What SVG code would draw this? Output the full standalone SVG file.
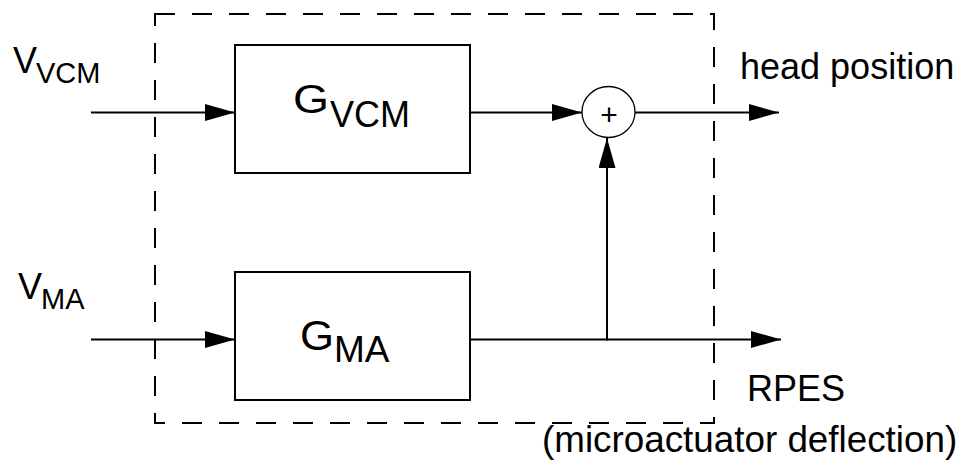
<svg xmlns="http://www.w3.org/2000/svg" width="966" height="465" viewBox="0 0 966 465">
<style>
  .ln { stroke: #000; stroke-width: 2; fill: none; }
  .box { stroke: #000; stroke-width: 2; fill: #fff; }
  .dash { stroke: #000; stroke-width: 2; fill: none; stroke-dasharray: 20 17; }
  .t { font-family: "Liberation Sans", Arial, sans-serif; fill: #000; }
</style>
<defs>
  <marker id="ah" markerUnits="userSpaceOnUse" markerWidth="30" markerHeight="17" refX="30" refY="8.5" orient="auto">
    <path d="M0,0 L30,8.5 L0,17 Z" fill="#000"/>
  </marker>
</defs>
<rect width="966" height="465" fill="#fff"/>
<g id="boundary">
  <path class="dash" d="M155,14 H714 V423 H155 Z"/>
</g>
<g id="connectors">
  <line class="ln" x1="91" y1="112.5" x2="235" y2="112.5" marker-end="url(#ah)"/>
  <line class="ln" x1="470" y1="112.5" x2="582" y2="112.5" marker-end="url(#ah)"/>
  <line class="ln" x1="635" y1="112.5" x2="779" y2="112.5" marker-end="url(#ah)"/>
  <line class="ln" x1="91" y1="339.5" x2="235" y2="339.5" marker-end="url(#ah)"/>
  <line class="ln" x1="470" y1="339.5" x2="781" y2="339.5" marker-end="url(#ah)"/>
  <line class="ln" x1="607" y1="340.5" x2="607" y2="138" marker-end="url(#ah)"/>
</g>
<g id="gvcm">
  <rect class="box" x="235" y="45" width="235" height="128"/>
  <text class="t" x="293" y="113" font-size="41" textLength="36" lengthAdjust="spacingAndGlyphs">G</text>
  <text class="t" x="330" y="127" font-size="36">VCM</text>
</g>
<g id="gma">
  <rect class="box" x="235" y="272" width="235" height="128"/>
  <text class="t" x="300" y="350" font-size="42" textLength="34" lengthAdjust="spacingAndGlyphs">G</text>
  <text class="t" x="334" y="361.5" font-size="37">MA</text>
</g>
<g id="sum">
  <ellipse cx="608.5" cy="112" rx="26.5" ry="25.5" fill="#fff" stroke="#000" stroke-width="1.3"/>
  <text class="t" x="609" y="125" font-size="30" text-anchor="middle">+</text>
</g>
<g id="labels">
  <text class="t" x="13" y="72.5" font-size="36">V</text>
  <text class="t" x="36" y="82.5" font-size="29">VCM</text>
  <text class="t" x="18" y="299" font-size="36">V</text>
  <text class="t" x="41" y="308.5" font-size="29">MA</text>
  <text class="t" x="740" y="79" font-size="36">head position</text>
  <text class="t" x="747" y="401" font-size="36">RPES</text>
  <text class="t" x="542" y="451.5" font-size="36.8">(microactuator deflection)</text>
</g>
</svg>
